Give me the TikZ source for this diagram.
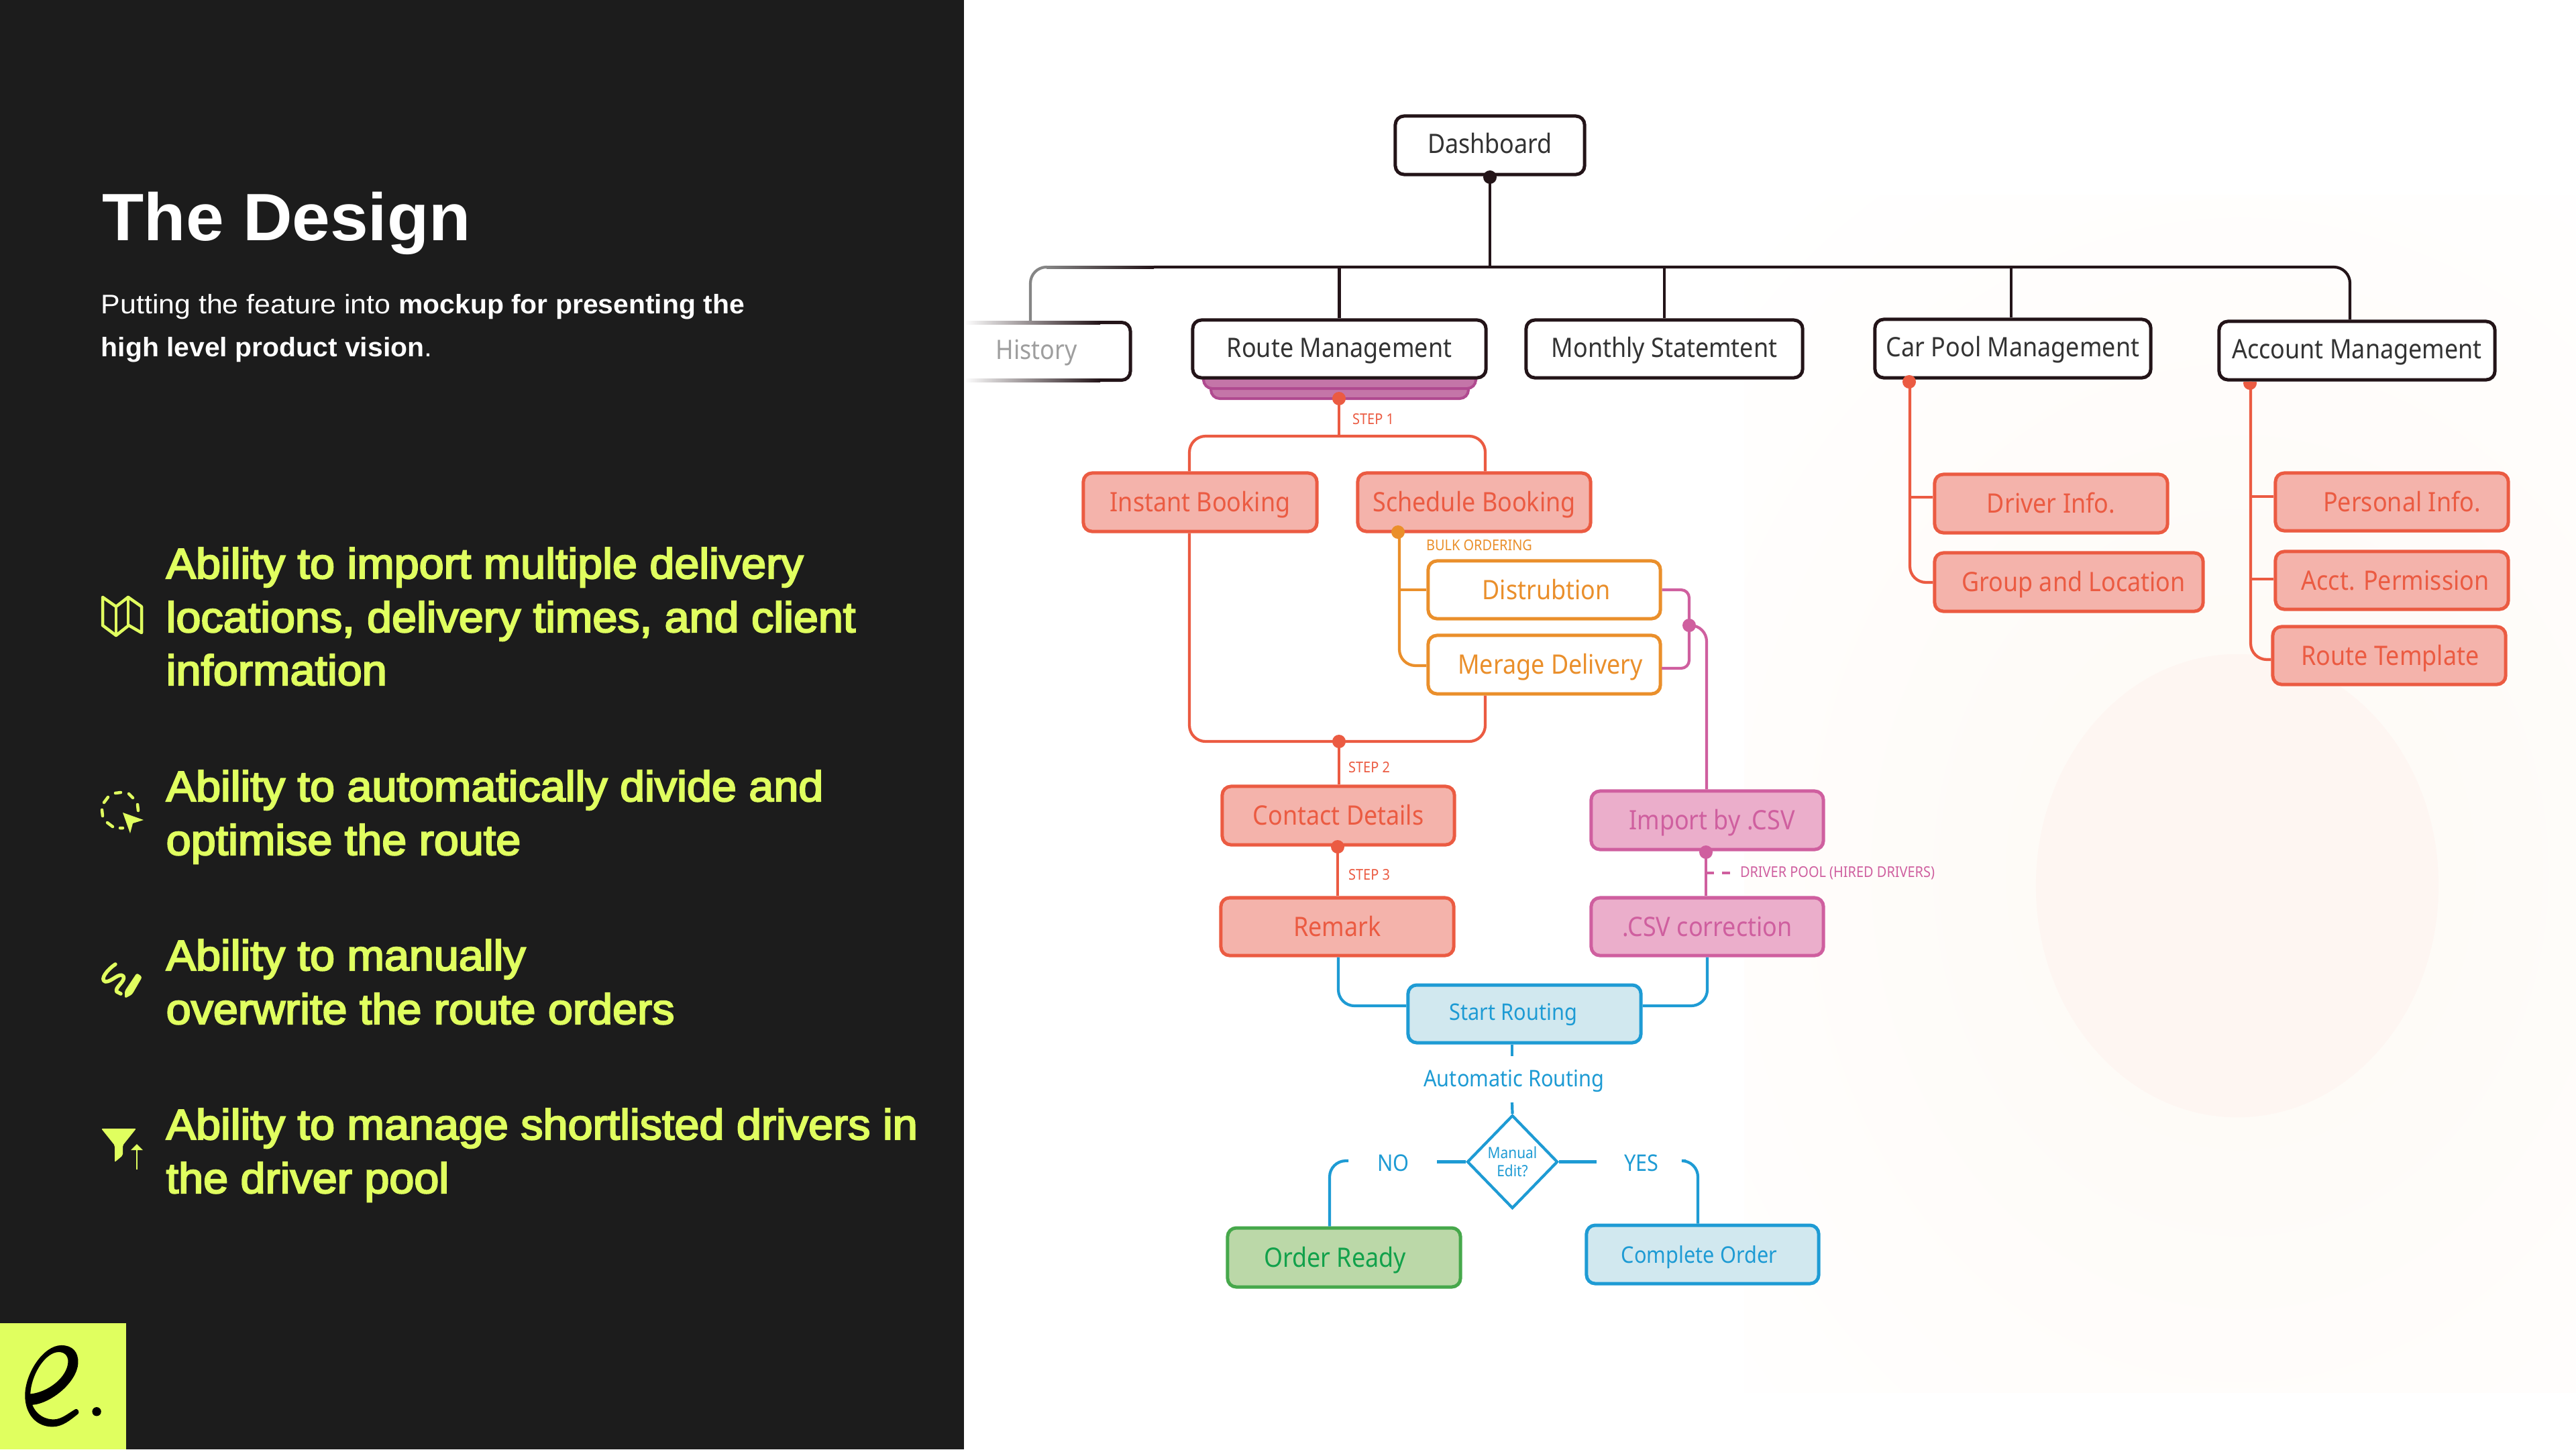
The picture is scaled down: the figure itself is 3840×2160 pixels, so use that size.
\documentclass[tikz,border=0pt]{standalone}
\usepackage{fontspec}
\usetikzlibrary{shapes.geometric,calc}
\setmainfont{Noto Sans}
\newfontfamily\dgm[FakeStretch=0.9]{Noto Sans}
\newfontfamily\titlef[FakeStretch=1.02]{Liberation Sans Bold}
\newfontfamily\subrf[FakeStretch=1.07]{Liberation Sans}
\newfontfamily\subbf[FakeStretch=1.02]{Liberation Sans Bold}
\newfontfamily\bulf[FakeStretch=1.045,FakeBold=3.5]{Liberation Sans}
\definecolor{panel}{HTML}{1C1C1C}
\definecolor{lime}{HTML}{E0FF5F}
\definecolor{ink}{HTML}{231418}
\definecolor{inktext}{HTML}{333333}
\definecolor{redc}{HTML}{EB5B42}
\definecolor{redf}{HTML}{F4B3AB}
\definecolor{pinkc}{HTML}{CF5F9F}
\definecolor{pinkf}{HTML}{EBAECB}
\definecolor{orangec}{HTML}{EA8F2B}
\definecolor{bluec}{HTML}{1E9BD4}
\definecolor{bluef}{HTML}{D1E8EF}
\definecolor{greenc}{HTML}{46A84B}
\definecolor{greenf}{HTML}{BBD8A8}
\definecolor{greent}{HTML}{12A14B}
\definecolor{tabf}{HTML}{C475A8}
\definecolor{tabc}{HTML}{B04A90}
\definecolor{glow}{HTML}{FEF9F4}
\definecolor{blobc}{HTML}{FEF6F2}
% #1 twice the sideways shift of the text, #2 its shift down, #3 the text (cm)
\newcommand{\nudge}[3]{\raisebox{-#2cm}[\height][\depth]{\hspace*{#1cm}#3}}
\tikzset{
  x=0.01cm,y=-0.01cm,
  box/.style={draw,rounded corners=0.13cm,line width=0.05cm,inner sep=0pt,align=center,text height=0.36cm,text depth=0.08cm,font=\dgm\fontsize{11.35}{13}\selectfont},
  darkbox/.style={box,draw=ink,fill=white,text=inktext,text height=0.32cm},
  redbox/.style={box,draw=redc,fill=redf,text=redc},
  pinkbox/.style={box,draw=pinkc,fill=pinkf,text=pinkc},
  orangebox/.style={box,draw=orangec,fill=white,text=orangec},
  bluebox/.style={box,draw=bluec,fill=bluef,text=bluec,text height=0.32cm,font=\dgm\fontsize{9.7}{12}\selectfont},
  greenbox/.style={box,draw=greenc,fill=greenf,text=greent},
  conn/.style={line width=0.042cm,rounded corners=0.24cm},
  darkline/.style={conn,draw=ink},
  redline/.style={conn,draw=redc},
  orangeline/.style={conn,draw=orangec},
  pinkline/.style={conn,draw=pinkc},
  blueline/.style={conn,draw=bluec},
  dot/.style={circle,inner sep=0pt,minimum size=0.2cm},
  tiny/.style={inner sep=0pt,font=\dgm\fontsize{6.3}{8}\selectfont},
  mid/.style={inner sep=0pt,text=bluec,font=\dgm\fontsize{9.7}{12}\selectfont},
  bul/.style={anchor=base west,inner sep=0pt,text=lime,font=\bulf\fontsize{18.1}{22}\selectfont},
  subt/.style={anchor=base west,inner sep=0pt,text=white,font=\subrf\fontsize{11.4}{14}\selectfont},
  icon/.style={draw=lime,line width=0.045cm,line cap=round,line join=round},
}
\begin{document}
\begin{tikzpicture}
\useasboundingbox (0,0) rectangle (3840,2160);
% backgrounds
\fill[white] (0,0) rectangle (3840,2160);
\begin{scope}
\clip (2600,290) rectangle (3840,2075);
\shade[inner color=glow,outer color=white] (3340,1300) ellipse (11cm and 13cm);
\end{scope}
\fill[blobc] (3335,1320) ellipse (3.0cm and 3.45cm);
\fill[panel] (0,0) rectangle (1437,2160);
% left text
\node[anchor=base west,inner sep=0pt,text=white,font=\titlef\fontsize{28.4}{34}\selectfont] (title) at (152,358) {The Design};
\node[subt] (s1) at (150,467) {Putting the feature into {\subbf mockup for presenting the}};
\node[subt] (s2) at (150,531) {{\subbf high level product vision}.};
\node[bul] (b1) at (247,862) {Ability to import multiple delivery};
\node[bul] (b2) at (247,942) {locations, delivery times, and client};
\node[bul] (b3) at (247,1021) {information};
\node[bul] (b4) at (247,1194) {Ability to automatically divide and};
\node[bul] (b5) at (247,1274) {optimise the route};
\node[bul] (b6) at (247,1446) {Ability to manually};
\node[bul] (b7) at (247,1526) {overwrite the route orders};
\node[bul] (b8) at (247,1698) {Ability to manage shortlisted drivers in};
\node[bul] (b9) at (247,1778) {the driver pool};
% icons
\draw[icon] (153,890) -- (173,904) -- (191,890) -- (211,904) -- (211,943) -- (192,932) -- (173,947) -- (153,932) -- cycle;
\draw[icon] (173,904) -- (173,947) (191,890) -- (191,932);
\draw[icon] (172,1182) -- (180,1181) (192,1183) -- (198,1189) (205,1199) -- (206,1208) (152,1207) -- (153,1216) (160,1226) -- (168,1232) (179,1234) -- (183,1234) (155,1196) -- (161,1188);
\fill[lime] (183,1211) -- (214,1222) -- (198,1227) -- (194,1242) -- cycle;
\draw[icon,line width=0.055cm] (172,1437) .. controls (160,1445) and (148,1460) .. (157,1463) .. controls (166,1464) and (178,1448) .. (184,1455) .. controls (188,1462) and (170,1472) .. (174,1478) -- (180,1481);
\fill[lime,rounded corners=0.03cm] (204,1450) -- (212,1456) -- (197,1482) -- (186,1488) -- (186,1477) -- cycle;
\fill[lime,rounded corners=0.02cm] (151,1682) -- (203,1682) -- (183,1707) -- (183,1722) -- (171,1732) -- (171,1707) -- cycle;
\draw[lime,line width=0.018cm] (204,1743) -- (204,1712);
\fill[lime] (195,1714) -- (213,1714) -- (204,1705) -- cycle;
% logo
\fill[lime] (0,1972) rectangle (188,2160);
\begin{scope}[shift={(0,1950)},x=0.003333cm,y=-0.003333cm]
\fill[black,even odd rule] (275,165) .. controls (325,165) and (352,195) .. (350,245)
 .. controls (345,330) and (230,425) .. (145,432)
 .. controls (165,480) and (205,497) .. (240,497)
 .. controls (275,497) and (305,470) .. (338,451)
 .. controls (348,446) and (358,465) .. (350,472)
 .. controls (315,500) and (280,530) .. (235,530)
 .. controls (160,530) and (112,470) .. (112,390)
 .. controls (112,290) and (195,165) .. (275,165) -- cycle
 (136,383) .. controls (215,375) and (300,310) .. (305,240)
 .. controls (306,205) and (280,190) .. (250,197)
 .. controls (195,210) and (140,300) .. (136,383) -- cycle;
\fill[black] (433,462) circle (0.0667cm);
\end{scope}
% history (fades out to the left)
\node[inner sep=0pt,fill=white,minimum width=2.5cm,minimum height=0.87cm,text height=0.32cm,text depth=0.08cm,font=\dgm\fontsize{11.35}{13}\selectfont,text=black!38] (hist) at (1562,523.5) {\nudge{-0.34}{0}{History}};
\shade[left color=white,right color=ink] (1437,478) rectangle (1640,483);
\shade[left color=white,right color=ink] (1437,564) rectangle (1640,569);
\draw[ink,line width=0.05cm,rounded corners=0.13cm] (1640,480.5) -- (1685,480.5) -- (1685,566.5) -- (1640,566.5);
% top row
\node[darkbox,minimum width=2.82cm,minimum height=0.87cm] (dash) at (2221,216.5) {Dashboard};
\draw[tabc,fill=tabf,line width=0.04cm,rounded corners=0.13cm] (1805,565) -- (1805,594) -- (2189,594) -- (2189,565) -- cycle;
\draw[tabc,fill=tabf,line width=0.04cm,rounded corners=0.13cm] (1794,555) -- (1794,579) -- (2200,579) -- (2200,555) -- cycle;
\node[darkbox,minimum width=4.37cm,minimum height=0.86cm] (route) at (1996.5,520) {Route Management};
\node[darkbox,minimum width=4.12cm,minimum height=0.86cm] (month) at (2481,520) {Monthly Statemtent};
\node[darkbox,minimum width=4.11cm,minimum height=0.87cm] (car) at (3000.5,519.5) {Car Pool Management};
\node[darkbox,minimum width=4.11cm,minimum height=0.87cm] (acct) at (3513.5,522.5) {Account Management};
% bus
\coordinate (bus) at (2221,398);
\coordinate (busfade) at (1560,398);
\draw[darkline] (dash.south) -- (bus);
\draw[conn,draw=black!48] (1536,478) -- (1536,398) -- (busfade);
\shade[left color=black!48,right color=ink] (1560,396) rectangle (1720,400);
\draw[darkline] (1720,398) -- (3503,398) -- (3503,0 |- acct.north);
\draw[darkline] (route.north) -- (route.north |- bus);
\draw[darkline] (month.north) -- (month.north |- bus);
\draw[darkline] (2998,0 |- car.north) -- (2998,398);
% booking
\node[redbox,minimum width=3.48cm,minimum height=0.87cm] (inst) at (1789,748.5) {Instant Booking};
\node[redbox,minimum width=3.47cm,minimum height=0.87cm] (sched) at (2197.5,748.5) {Schedule Booking};
\node[orangebox,minimum width=3.46cm,minimum height=0.86cm] (dist) at (2302,879) {\nudge{0.06}{0}{Distrubtion}};
\node[orangebox,minimum width=3.46cm,minimum height=0.87cm] (mera) at (2302,990.5) {\nudge{0.18}{0}{Merage Delivery}};
\node[redbox,minimum width=3.46cm,minimum height=0.87cm] (cont) at (1995,1215.5) {Contact Details};
\node[redbox,minimum width=3.47cm,minimum height=0.86cm] (rem) at (1993.5,1381) {Remark};
\node[pinkbox,minimum width=3.46cm,minimum height=0.87cm] (imp) at (2545,1222.5) {\nudge{0.14}{0}{Import by .CSV}};
\node[pinkbox,minimum width=3.46cm,minimum height=0.86cm] (csv) at (2545,1381) {.CSV correction};
\node[bluebox,minimum width=3.47cm,minimum height=0.86cm] (start) at (2272.5,1511) {\raisebox{0.03cm}[\height][\depth]{\hspace*{-0.33cm}Start Routing}};
\node[bluebox,minimum width=3.46cm,minimum height=0.87cm] (comp) at (2538,1869.5) {\nudge{-0.1}{0.01}{Complete Order}};
\node[greenbox,minimum width=3.47cm,minimum height=0.88cm] (order) at (2003.5,1874) {\nudge{-0.27}{0}{Order Ready}};
\node[draw=bluec,line width=0.042cm,fill=white,diamond,aspect=0.97,inner sep=0pt,minimum width=1.35cm,minimum height=1.39cm,text=bluec,align=center,font=\dgm\fontsize{6.6}{7.8}\selectfont] (dec) at (2254.5,1731.5) {Manual\\Edit?};
% right columns
\node[redbox,minimum width=3.47cm,minimum height=0.87cm] (drv) at (3057.5,750.5) {Driver Info.};
\node[redbox,minimum width=4.00cm,minimum height=0.87cm] (grp) at (3084,867.5) {\nudge{0.14}{0}{Group and Location}};
\node[redbox,minimum width=3.47cm,minimum height=0.86cm] (pers) at (3565.5,748) {\nudge{0.3}{0}{Personal Info.}};
\node[redbox,minimum width=3.47cm,minimum height=0.86cm] (perm) at (3565.5,865) {\nudge{0.1}{0}{Acct. Permission}};
\node[redbox,minimum width=3.47cm,minimum height=0.86cm] (tmpl) at (3561.5,977) {\nudge{0.03}{0}{Route Template}};
% connectors: route management
\coordinate (s1bus) at (1996,650);
\draw[redline] (1996,594) -- (s1bus);
\draw[redline] (1773,0 |- inst.north) -- (1773,650) -- (2214,650) -- (2214,0 |- sched.north);
\coordinate (s2bus) at (1996,1105);
\draw[redline] (1773,0 |- inst.south) -- (1773,1105) -- (2214,1105) -- (2214,0 |- mera.south);
\draw[redline] (s2bus) -- (s2bus |- cont.north);
\draw[redline] (1994,0 |- cont.south) -- (1994,0 |- rem.north);
\draw[orangeline] (2086,0 |- sched.south) -- (2086,992) -- (mera.west |- 0,992);
\draw[orangeline] (2086,0 |- dist.west) -- (dist.west);
\draw[pinkline,rounded corners=0.12cm] (dist.east) -- (2518,879) -- (2518,996) -- (2477,996);
\draw[pinkline] (2518,932) -- (2544,932) -- (2544,0 |- imp.north);
\draw[pinkline] (2543,0 |- imp.south) -- (2543,0 |- csv.north);
\coordinate (poolend) at (2580,1301);
\draw[pinkline,dash pattern=on 0.12cm off 0.12cm,line width=0.04cm] (2543,1301) -- (poolend);
% routing
\draw[blueline] (1995,0 |- rem.south) -- (1995,1499) -- (start.west |- 0,1499);
\draw[blueline] (2545,0 |- csv.south) -- (2545,1499) -- (start.east |- 0,1499);
\node[mid] (auto) at (2257,1611) {Automatic Routing};
\draw[blueline] (2254,0 |- start.south) -- (2254,1574);
\draw[blueline] (2254,1643) -- (dec.north);
\node[mid] (no) at (2077,1733) {NO};
\node[mid] (yes) at (2447,1733) {YES};
\draw[blueline] (dec.west) -- (2142,0 |- dec.west);
\draw[blueline] (dec.east) -- (2380,0 |- dec.east);
\draw[blueline] (2010,1730) -- (1982,1730) -- (1982,0 |- order.north);
\draw[blueline] (2513,1730) -- (2531,1730) -- (2531,0 |- comp.north);
% right columns connectors
\draw[redline] (2847,0 |- car.south) -- (2847,868) -- (grp.west |- 0,868);
\draw[redline] (2847,741) -- (drv.west |- 0,741);
\draw[redline] (3355,0 |- acct.south) -- (3355,983) -- (tmpl.west |- 0,983);
\draw[redline] (3355,740) -- (pers.west |- 0,740);
\draw[redline] (3355,863) -- (perm.west |- 0,863);
% labels
\node[tiny,text=redc] (l1) at (2047,625) {STEP 1};
\node[tiny,text=redc] (l2) at (2041,1144) {STEP 2};
\node[tiny,text=redc] (l3) at (2041,1304) {STEP 3};
\node[tiny,text=orangec] (l4) at (2205,813) {BULK ORDERING};
\node[tiny,text=pinkc] (l5) at (2739,1301) {DRIVER POOL (HIRED DRIVERS)};
% dots
\node[dot,fill=ink] (d1) at (2221,264) {};
\node[dot,fill=redc] (d2) at (1996,594) {};
\node[dot,fill=orangec] (d3) at (2084,793) {};
\node[dot,fill=redc] (d4) at (1996,1105) {};
\node[dot,fill=redc] (d5) at (1994,1262) {};
\node[dot,fill=pinkc] (d6) at (2518,932) {};
\node[dot,fill=pinkc] (d7) at (2543,1270) {};
\node[dot,fill=redc] (d8) at (2846,569) {};
\begin{scope}
\clip (3300,569) rectangle (3400,590);
\node[dot,fill=redc] (d9) at (3354,571) {};
\end{scope}
\end{tikzpicture}
\end{document}
